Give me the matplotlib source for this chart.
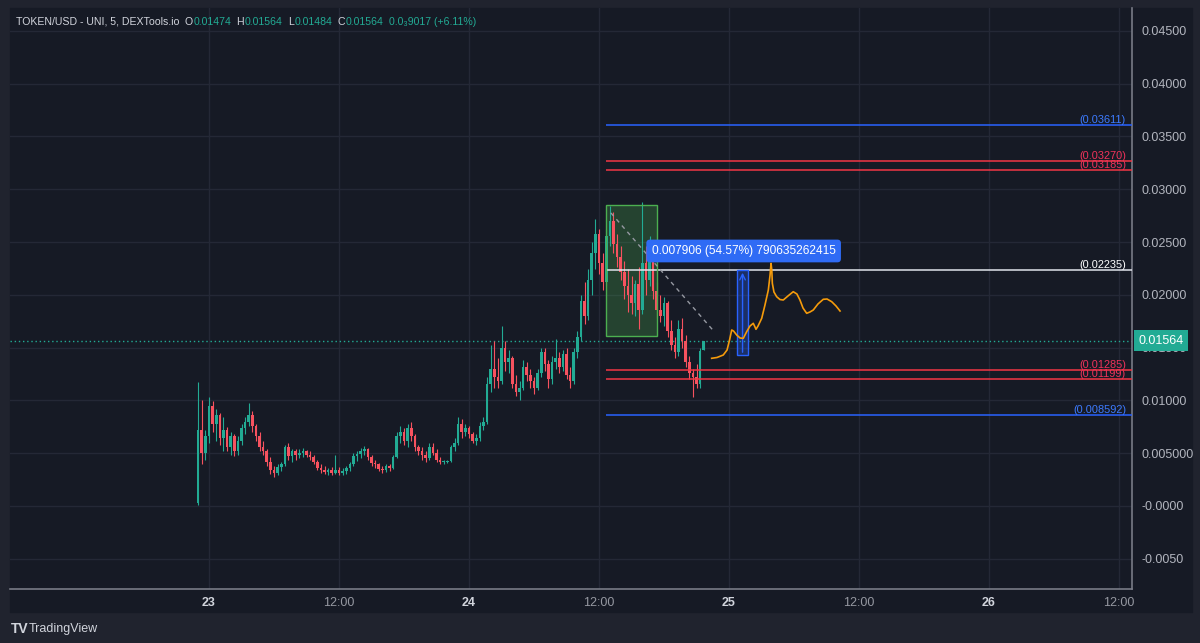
import matplotlib.pyplot as plt
import matplotlib.transforms as mtransforms
from matplotlib.patches import Rectangle
import numpy as np

plt.rcParams['font.family'] = ['Liberation Sans', 'DejaVu Sans']

# 20-minute candles, prices in units of 0.0001, first candle at 22 23:00
PRICE_UNIT = 1e-4
CANDLE_START_H = -1.0        # hours relative to 23 00:00
CANDLE_STEP_H = 1.0 / 3.0

opens = [3, 72, 50, 66, 95, 78, 86, 64, 72, 56,
         66, 52, 62, 74, 80, 86, 76, 66, 56, 52,
         42, 34, 31, 37, 40, 56, 47, 52, 48, 50,
         52, 48, 46, 42, 36, 34, 32, 34, 31, 34,
         31, 33, 36, 40, 47, 49, 52, 54, 46, 41,
         40, 35, 34, 38, 36, 46, 66, 70, 62, 74,
         66, 56, 52, 48, 45, 56, 50, 44, 42, 42,
         43, 56, 60, 78, 70, 74, 68, 62, 64, 76,
         80, 116, 130, 122, 118, 150, 136, 140, 116, 108,
         112, 132, 124, 118, 112, 126, 146, 134, 120, 136,
         140, 132, 144, 124, 118, 146, 160, 194, 180, 214,
         240, 258, 230, 212, 256, 270, 248, 236, 222, 208,
         200, 192, 210, 186, 230, 214, 236, 204, 186, 180,
         192, 166, 152, 146, 168, 156, 136, 126, 122, 116,
         147.4]
highs = [117, 100, 72, 103, 99, 92, 88, 84, 75, 70,
         68, 66, 78, 84, 98, 90, 78, 70, 62, 54,
         46, 38, 40, 42, 58, 60, 54, 54, 54, 55,
         53, 52, 48, 44, 40, 38, 36, 37, 48, 37,
         36, 38, 42, 50, 52, 55, 57, 55, 48, 44,
         41, 38, 40, 40, 48, 70, 76, 74, 78, 80,
         68, 58, 56, 52, 60, 60, 54, 46, 44, 44,
         58, 64, 84, 82, 78, 76, 70, 68, 80, 84,
         122, 152, 156, 140, 170, 156, 148, 142, 124, 118,
         138, 136, 130, 122, 130, 150, 150, 138, 142, 158,
         146, 148, 150, 132, 150, 166, 200, 212, 224, 250,
         272, 262, 240, 262, 284, 278, 258, 246, 232, 224,
         218, 214, 226, 288, 246, 256, 240, 212, 200, 198,
         194, 176, 160, 176, 178, 162, 142, 130, 134, 150,
         156.4]
lows = [1, 40, 44, 60, 70, 62, 58, 52, 52, 48,
        47, 48, 58, 68, 76, 70, 62, 52, 48, 38,
        30, 27, 29, 33, 38, 44, 42, 44, 45, 46,
        46, 44, 40, 34, 31, 30, 29, 29, 30, 29,
        29, 30, 33, 38, 43, 45, 48, 44, 38, 36,
        33, 31, 32, 33, 35, 45, 60, 58, 56, 62,
        52, 48, 44, 42, 44, 48, 42, 40, 40, 41,
        42, 52, 58, 64, 66, 64, 60, 58, 62, 72,
        78, 108, 112, 112, 116, 128, 126, 112, 104, 100,
        110, 118, 112, 106, 110, 122, 128, 112, 116, 130,
        126, 128, 120, 112, 116, 140, 156, 172, 176, 200,
        224, 220, 205, 208, 246, 240, 226, 214, 196, 184,
        182, 180, 168, 182, 200, 208, 196, 178, 174, 170,
        160, 148, 140, 142, 150, 132, 120, 103, 112, 112,
        147.4]
closes = [72, 50, 66, 95, 78, 86, 64, 72, 56, 66,
          52, 62, 74, 80, 86, 76, 66, 56, 52, 42,
          34, 31, 37, 40, 56, 47, 52, 48, 50, 52,
          48, 46, 42, 36, 34, 32, 34, 31, 34, 31,
          33, 36, 40, 47, 49, 52, 54, 46, 41, 40,
          35, 34, 38, 36, 46, 66, 70, 62, 74, 66,
          56, 52, 48, 45, 56, 50, 44, 42, 42, 43,
          56, 60, 78, 70, 74, 68, 62, 64, 76, 80,
          116, 130, 122, 118, 150, 136, 140, 116, 108, 112,
          132, 124, 118, 112, 126, 146, 134, 120, 136, 140,
          132, 144, 124, 118, 146, 160, 194, 180, 214, 240,
          258, 230, 212, 256, 270, 248, 236, 222, 208, 200,
          192, 210, 186, 230, 214, 236, 204, 186, 180, 192,
          166, 152, 146, 168, 156, 136, 126, 122, 116, 147,
          156.4]

last_price = 0.01564

# horizontal levels drawn on the chart
level_values = [0.03611, 0.03270, 0.03185, 0.02235, 0.01285, 0.01199, 0.008592]
level_labels = ["(0.03611)", "(0.03270)", "(0.03185)", "(0.02235)",
                "(0.01285)", "(0.01199)", "(0.008592)"]
level_kinds = ["blue", "red", "red", "white", "red", "red", "blue"]
level_start_h = 36.6

# green box, dashed trend line, measure tool
box_h = (36.65, 41.35)
box_p = (0.0161, 0.0285)
trend_h = [37.1, 46.5]
trend_p = [0.02775, 0.01667]
measure_h = (48.74, 49.76)
measure_p = (0.0143, 0.02235)
measure_text = "0.007906 (54.57%) 790635262415"

# orange projection brush
brush_h = [46.40, 46.89, 47.47, 47.82, 48.05, 48.25, 48.42, 48.71, 49.02, 49.32,
           49.63, 49.94, 50.24, 50.40, 50.49, 50.68, 51.02, 51.32, 51.63, 51.79,
           51.88, 51.95, 52.00, 52.15, 52.40, 52.70, 53.01, 53.44, 53.93, 54.27,
           54.55, 54.83, 55.17, 55.47, 55.78, 56.21, 56.70, 57.05, 57.48, 57.88, 58.25]
brush_p = [0.013987, 0.014063, 0.014299, 0.014773, 0.015720, 0.016667, 0.016572,
           0.016193, 0.015909, 0.015881, 0.016506, 0.017045, 0.017301, 0.016951,
           0.016733, 0.017045, 0.017775, 0.019034, 0.020455, 0.021875, 0.022983,
           0.022348, 0.021089, 0.020265, 0.019820, 0.019555, 0.019508, 0.019886,
           0.020294, 0.020076, 0.019508, 0.018750, 0.018248, 0.018371, 0.018561,
           0.019129, 0.019574, 0.019602, 0.019347, 0.018939, 0.018466]

x_ticks = [0, 12, 24, 36, 48, 60, 72, 84]
x_labels = ["23", "12:00", "24", "12:00", "25", "12:00", "26", "12:00"]
y_ticks = [0.045, 0.040, 0.035, 0.030, 0.025, 0.020, 0.015, 0.010, 0.005, 0.0, -0.005]
y_labels = ["0.04500", "0.04000", "0.03500", "0.03000", "0.02500", "0.02000",
            "0.01500", "0.01000", "0.005000", "-0.0000", "-0.0050"]

BG_OUT = "#20232e"
BG = "#161a25"
GRID = "#242836"
UP = "#22ab94"
DOWN = "#f7525f"
BLUE = "#2962ff"
RED = "#f23645"
TXT = "#b2b5be"

W, H = 1200, 643
fig = plt.figure(figsize=(12, 6.43), dpi=100)
fig.patch.set_facecolor(BG_OUT)
fig.add_artist(Rectangle((10 / W, 31 / H), 1182 / W, 604 / H,
                         transform=fig.transFigure, color=BG, zorder=0))

ax = fig.add_axes([10 / W, 54 / H, 1122 / W, 581 / H])
ax.set_facecolor(BG)
ax.set_xlim(-18.37, 85.2)
ax.set_ylim(-0.00786, 0.04716)

# candles
o = np.array(opens) * PRICE_UNIT
hi = np.array(highs) * PRICE_UNIT
lo = np.array(lows) * PRICE_UNIT
c = np.array(closes) * PRICE_UNIT
t = CANDLE_START_H + CANDLE_STEP_H * np.arange(len(o))
colors = np.where(c >= o, UP, DOWN)
ax.vlines(t, lo, hi, colors=colors, lw=0.8, zorder=3)
body = np.maximum(np.abs(c - o), 0.00006)
ax.bar(t, body, bottom=np.minimum(o, c), width=0.24, color=colors, lw=0, zorder=3)

# grid
ax.set_xticks(x_ticks)
ax.set_xticklabels(x_labels)
ax.set_yticks(y_ticks)
ax.set_yticklabels(y_labels)
ax.grid(color=GRID, lw=1, zorder=0)
ax.yaxis.tick_right()
ax.tick_params(axis="y", length=0, pad=7, labelcolor=TXT, labelsize=9)
ax.tick_params(axis="x", length=0, pad=6, labelcolor="#9598a1", labelsize=9)
for lab in ax.get_xticklabels():
    if ":" not in lab.get_text():
        lab.set_color("#d1d4dc")
        lab.set_fontweight("bold")
for side in ["top", "left"]:
    ax.spines[side].set_visible(False)
for side in ["right", "bottom"]:
    ax.spines[side].set_color("#787b86")
    ax.spines[side].set_linewidth(1.2)

blend = mtransforms.blended_transform_factory(ax.transAxes, ax.transData)

# last price dotted line and axis label
ax.axhline(last_price, color=UP, lw=1, ls=(0, (1, 2)), zorder=2)
ax.annotate(f"{last_price:.5f}", xy=(1.0, last_price), xycoords=blend,
            xytext=(4.5, 0), textcoords="offset points", ha="left", va="center",
            color="white", fontsize=9, annotation_clip=False, zorder=10,
            bbox=dict(boxstyle="square,pad=0.35", fc=UP, ec="none"))

# levels
kind_line = {"blue": BLUE, "red": RED, "white": "#e0e3eb"}
kind_text = {"blue": "#3d7bff", "red": "#f0325a", "white": "#ffffff"}
for val, lab, kind in zip(level_values, level_labels, level_kinds):
    ax.hlines(val, level_start_h, 85.2, color=kind_line[kind], lw=1.1, zorder=4)
    ax.annotate(lab, xy=(0.9947, val), xycoords=blend, xytext=(0, 0),
                textcoords="offset points", ha="right", va="bottom",
                color=kind_text[kind], fontsize=7.9, zorder=5)

# green box
ax.add_patch(Rectangle((box_h[0], box_p[0]), box_h[1] - box_h[0], box_p[1] - box_p[0],
                       fc="#4caf50", alpha=0.28, ec="none", zorder=2))
ax.add_patch(Rectangle((box_h[0], box_p[0]), box_h[1] - box_h[0], box_p[1] - box_p[0],
                       fill=False, ec="#4caf50", lw=1, zorder=4))

# dashed trend line
ax.plot(trend_h, trend_p, color="#9598a1", lw=1, ls=(0, (3, 3)), zorder=4)

# measure tool
ax.add_patch(Rectangle((measure_h[0], measure_p[0]), measure_h[1] - measure_h[0],
                       measure_p[1] - measure_p[0], fc=BLUE, alpha=0.3,
                       ec="none", zorder=4))
ax.add_patch(Rectangle((measure_h[0], measure_p[0]), measure_h[1] - measure_h[0],
                       measure_p[1] - measure_p[0], fill=False, ec=BLUE, lw=1, zorder=4))
mid_h = (measure_h[0] + measure_h[1]) / 2
ax.annotate("", xy=(mid_h, measure_p[1]), xytext=(mid_h, measure_p[0]),
            arrowprops=dict(arrowstyle="->", color=BLUE, lw=1), zorder=5)
ax.text(mid_h + 0.1, 0.02415, measure_text, ha="center", va="center",
        color="white", fontsize=8.6, zorder=6,
        bbox=dict(boxstyle="round,pad=0.45,rounding_size=0.3", fc="#2f6bf5", ec="none"))

# orange brush
ax.plot(brush_h, brush_p, color="#f59b0b", lw=1.2, zorder=5, solid_joinstyle="round")

# header, laid out left to right
hy = 1 - 22 / H
header = [("TOKEN/USD - UNI, 5, DEXTools.io", "#d1d4dc", 5),
          ("O", "#d1d4dc", 1), ("0.01474", UP, 5),
          ("H", "#d1d4dc", 1), ("0.01564", UP, 5),
          ("L", "#d1d4dc", 1), ("0.01484", UP, 5),
          ("C", "#d1d4dc", 1), ("0.01564", UP, 5),
          ("0.0\u20839017 (+6.11%)", UP, 0)]
renderer = fig.canvas.get_renderer()
px = 16
for s, col, gap in header:
    txt = fig.text(px / W, hy, s, color=col, fontsize=7.6, va="center", ha="left")
    px = txt.get_window_extent(renderer).x1 + gap

# footer logo
fig.text(11 / W, 1 - 629 / H, "TV", color="#d1d4dc", fontsize=10,
         fontweight="bold", va="center")
fig.text(29 / W, 1 - 629 / H, "TradingView", color="#d1d4dc", fontsize=9, va="center")

fig.savefig("out.png", dpi=100, facecolor=fig.get_facecolor())
